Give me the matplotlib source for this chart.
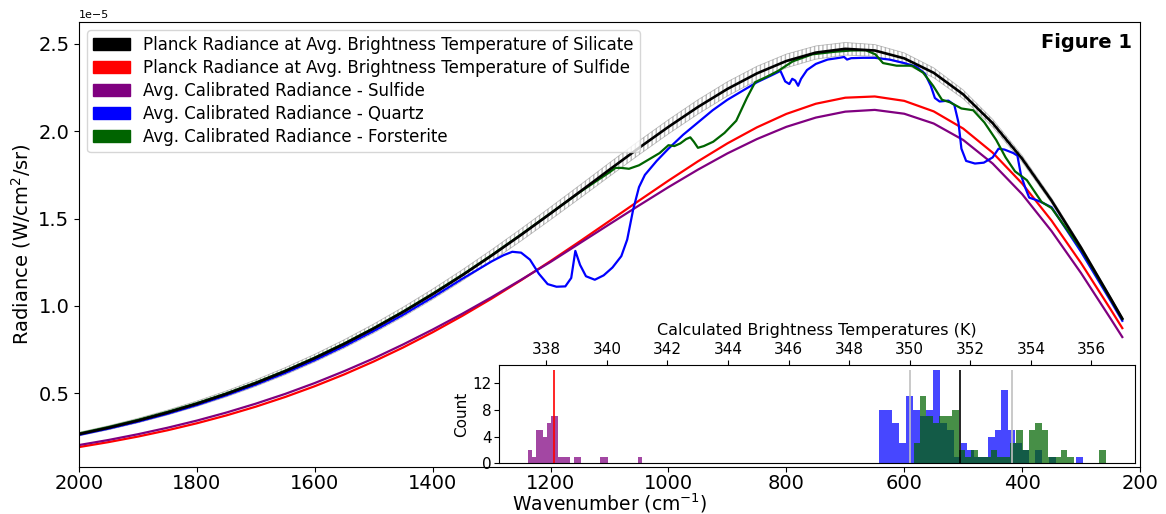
import matplotlib
matplotlib.use("Agg")
import matplotlib.pyplot as plt
import matplotlib.patches as mpatches
import numpy as np

# ---- main panel: radiance curves (values in units of 1e-5 W/cm^2/sr) ----
wn = [2000, 1950, 1900, 1850, 1800, 1750, 1700, 1650, 1600, 1550,
      1500, 1450, 1400, 1350, 1300, 1250, 1200, 1150, 1100, 1050,
      1000, 950, 900, 850, 800, 750, 700, 650, 600, 550,
      500, 450, 400, 350, 300, 250, 230]

planck_silicate = [0.2664, 0.3030, 0.3439, 0.3896, 0.4403, 0.4966, 0.5586, 0.6268, 0.7015, 0.7827,
                   0.8708, 0.9656, 1.0670, 1.1748, 1.2883, 1.4069, 1.5294, 1.6543, 1.7802, 1.9047,
                   2.0249, 2.1386, 2.2419, 2.3307, 2.4018, 2.4499, 2.4715, 2.4619, 2.4170, 2.3342,
                   2.2109, 2.0464, 1.8425, 1.6025, 1.3331, 1.0449, 0.9275]
planck_silicate_lo = [0.2561, 0.2915, 0.3312, 0.3756, 0.4249, 0.4797, 0.5401, 0.6067, 0.6796, 0.7591,
                      0.8454, 0.9384, 1.0379, 1.1439, 1.2556, 1.3725, 1.4935, 1.6170, 1.7418, 1.8653,
                      1.9849, 2.0983, 2.2017, 2.2910, 2.3630, 2.4124, 2.4358, 2.4285, 2.3861, 2.3063,
                      2.1862, 2.0251, 1.8247, 1.5882, 1.3221, 1.0370, 0.9207]
planck_silicate_hi = [0.2769, 0.3147, 0.3568, 0.4038, 0.4560, 0.5138, 0.5774, 0.6473, 0.7237, 0.8068,
                      0.8967, 0.9934, 1.0966, 1.2063, 1.3215, 1.4419, 1.5660, 1.6922, 1.8194, 1.9448,
                      2.0657, 2.1797, 2.2828, 2.3712, 2.4413, 2.4880, 2.5077, 2.4960, 2.4483, 2.3625,
                      2.2360, 2.0680, 1.8606, 1.6170, 1.3443, 1.0530, 0.9344]
planck_sulfide = [0.1925, 0.2208, 0.2526, 0.2885, 0.3287, 0.3737, 0.4238, 0.4794, 0.5409, 0.6084,
                  0.6823, 0.7627, 0.8496, 0.9429, 1.0422, 1.1472, 1.2571, 1.3705, 1.4865, 1.6026,
                  1.7172, 1.8276, 1.9304, 2.0220, 2.0990, 2.1572, 2.1918, 2.1988, 2.1737, 2.1135,
                  2.0152, 1.8774, 1.7008, 1.4880, 1.2452, 0.9814, 0.8730]
rad_sulfide = [0.204, 0.233, 0.266, 0.303, 0.344, 0.390, 0.441, 0.497, 0.559, 0.627,
               0.700, 0.780, 0.865, 0.955, 1.050, 1.150, 1.252, 1.360, 1.468, 1.575,
               1.680, 1.780, 1.873, 1.955, 2.025, 2.078, 2.112, 2.122, 2.100, 2.044,
               1.950, 1.815, 1.640, 1.428, 1.188, 0.928, 0.822]

wn_quartz = [2000, 1950, 1900, 1850, 1800, 1750, 1700, 1650, 1600, 1550,
             1500, 1450, 1400, 1350, 1300, 1280, 1265, 1250, 1235, 1220,
             1205, 1190, 1175, 1165, 1158, 1150, 1140, 1125, 1110, 1095,
             1080, 1070, 1060, 1050, 1040, 1020, 1000, 975, 950, 925,
             900, 875, 850, 825, 810, 802, 795, 790, 785, 780,
             775, 765, 750, 730, 710, 702, 697, 690, 670, 650,
             625, 600, 580, 565, 555, 548, 540, 525, 515, 508,
             503, 495, 480, 465, 450, 440, 430, 415, 408, 402,
             395, 388, 375, 365, 350, 300, 250, 230]
rad_quartz = [0.262, 0.298, 0.338, 0.383, 0.433, 0.489, 0.550, 0.617, 0.690, 0.770,
              0.857, 0.950, 1.050, 1.155, 1.255, 1.290, 1.310, 1.305, 1.265, 1.185,
              1.125, 1.110, 1.112, 1.16, 1.315, 1.235, 1.17, 1.15, 1.175, 1.22,
              1.285, 1.38, 1.55, 1.68, 1.75, 1.83, 1.90, 1.98, 2.05, 2.12,
              2.18, 2.23, 2.28, 2.32, 2.345, 2.285, 2.27, 2.30, 2.29, 2.26,
              2.30, 2.35, 2.385, 2.41, 2.42, 2.425, 2.41, 2.418, 2.42, 2.42,
              2.41, 2.39, 2.37, 2.33, 2.26, 2.19, 2.17, 2.175, 2.15, 2.05,
              1.90, 1.83, 1.815, 1.82, 1.85, 1.90, 1.895, 1.875, 1.86, 1.75,
              1.68, 1.62, 1.605, 1.59, 1.565, 1.31, 1.03, 0.915]

wn_forst = [2000, 1950, 1900, 1850, 1800, 1750, 1700, 1650, 1600, 1550,
            1500, 1450, 1400, 1350, 1300, 1250, 1200, 1150, 1120, 1100,
            1090, 1080, 1067, 1050, 1035, 1015, 1000, 990, 980, 970,
            963, 957, 950, 940, 924, 905, 885, 867, 853, 834,
            814, 789, 756, 717, 690, 665, 649, 636, 613, 587,
            568, 551, 536, 522, 503, 483, 464, 444, 428, 412,
            392, 367, 350, 300, 250, 230]
rad_forst = [0.270, 0.307, 0.348, 0.394, 0.444, 0.500, 0.562, 0.630, 0.705, 0.786,
             0.874, 0.969, 1.071, 1.178, 1.291, 1.409, 1.531, 1.652, 1.72, 1.765,
             1.79, 1.79, 1.785, 1.805, 1.835, 1.875, 1.92, 1.915, 1.93, 1.955,
             1.965, 1.94, 1.905, 1.915, 1.94, 1.99, 2.06, 2.19, 2.28, 2.31,
             2.345, 2.40, 2.44, 2.455, 2.462, 2.463, 2.44, 2.39, 2.375, 2.375,
             2.335, 2.26, 2.18, 2.165, 2.13, 2.12, 2.05, 1.95, 1.85, 1.77,
             1.72, 1.595, 1.56, 1.325, 1.04, 0.925]

# ---- inset: brightness temperature histograms (30 bins each) ----
t_range_sulfide = (337.40, 341.16)
cnt_sulfide = [2, 1, 5, 5, 4, 6, 7, 7, 1, 1, 1, 0, 1, 1, 0, 0, 0, 0, 0, 1,
               1, 0, 0, 0, 0, 0, 0, 0, 0, 1]
t_range_quartz = (348.98, 355.72)
cnt_quartz = [8, 8, 6, 3, 10, 8, 7, 8, 14, 6, 5, 1, 3, 2, 1, 1, 4, 5, 11, 5,
              3, 2, 0, 2, 0, 1, 0, 0, 0, 1]
t_range_forst = (350.13, 356.47)
cnt_forst = [3, 10, 7, 6, 7, 7, 8, 2, 1, 2, 1, 1, 2, 1, 1, 3, 5, 2, 5, 6,
             5, 1, 1, 2, 1, 0, 0, 0, 0, 2]

t_mean_sulfide = 338.25
t_mean_silicate = 351.67
t_bounds_silicate = [350.0, 353.37]

if __name__ == '__main__':
    fig = plt.figure(figsize=(11.66, 5.14), dpi=100)
    ax = fig.add_axes([0.0678, 0.092, 0.9099, 0.8652])

    s = 1e-5
    ax.fill_between(wn, np.array(planck_silicate_lo) * s, np.array(planck_silicate_hi) * s,
                    facecolor='none', edgecolor='gray', hatch='||||', linewidth=0.6, alpha=0.55)
    ax.plot(wn, np.array(planck_sulfide) * s, color='red', lw=1.6)
    ax.plot(wn, np.array(rad_sulfide) * s, color='purple', lw=1.6)
    ax.plot(wn_quartz, np.array(rad_quartz) * s, color='blue', lw=1.6)
    ax.plot(wn_forst, np.array(rad_forst) * s, color='darkgreen', lw=1.6)
    ax.plot(wn, np.array(planck_silicate) * s, color='black', lw=1.9)

    ax.set_xlim(2000, 200)
    ax.set_ylim(0.08e-5, 2.625e-5)
    ax.set_xticks([2000, 1800, 1600, 1400, 1200, 1000, 800, 600, 400, 200])
    ax.set_yticks([0.5e-5, 1.0e-5, 1.5e-5, 2.0e-5, 2.5e-5])
    ax.tick_params(axis='x', labelsize=14, pad=1.5)
    ax.tick_params(axis='y', labelsize=14)
    ax.yaxis.get_offset_text().set_fontsize(8)
    ax.set_xlabel("Wavenumber (cm$^{-1}$)", fontsize=13.5, labelpad=-1)
    ax.set_ylabel("Radiance (W/cm$^2$/sr)", fontsize=14)
    ax.text(0.992, 0.975, "Figure 1", transform=ax.transAxes, ha='right', va='top',
            fontsize=14, fontweight='bold')

    handles = [mpatches.Patch(color='black', label='Planck Radiance at Avg. Brightness Temperature of Silicate'),
               mpatches.Patch(color='red', label='Planck Radiance at Avg. Brightness Temperature of Sulfide'),
               mpatches.Patch(color='purple', label='Avg. Calibrated Radiance - Sulfide'),
               mpatches.Patch(color='blue', label='Avg. Calibrated Radiance - Quartz'),
               mpatches.Patch(color='darkgreen', label='Avg. Calibrated Radiance - Forsterite')]
    ax.legend(handles=handles, loc='upper left', fontsize=12, labelspacing=0.3,
              handlelength=2.2, borderaxespad=0.5, borderpad=0.35)

    # inset histogram
    axi = fig.add_axes([0.428, 0.0986, 0.5455, 0.1913])
    for rng, cnt, col in [(t_range_sulfide, cnt_sulfide, 'purple'),
                          (t_range_quartz, cnt_quartz, 'blue'),
                          (t_range_forst, cnt_forst, 'darkgreen')]:
        edges = np.linspace(rng[0], rng[1], len(cnt) + 1)
        axi.hist(edges[:-1], bins=edges, weights=cnt, color=col, alpha=0.72)
    axi.vlines(t_mean_sulfide, 0, 14, color='red', lw=1.2)
    axi.vlines(t_bounds_silicate, 0, 14, color='silver', lw=1.2)
    axi.vlines(t_mean_silicate, 0, 14, color='black', lw=1.2)
    axi.set_xlim(336.44, 357.44)
    axi.set_ylim(0, 14.7)
    axi.xaxis.tick_top()
    axi.xaxis.set_label_position('top')
    axi.set_xticks(range(338, 357, 2))
    axi.set_yticks([0, 4, 8, 12])
    axi.tick_params(labelsize=11, pad=2)
    axi.set_xlabel("Calculated Brightness Temperatures (K)", fontsize=11.5, labelpad=5)
    axi.set_ylabel("Count", fontsize=11, labelpad=2)

    fig.savefig('out.png', dpi=100)
